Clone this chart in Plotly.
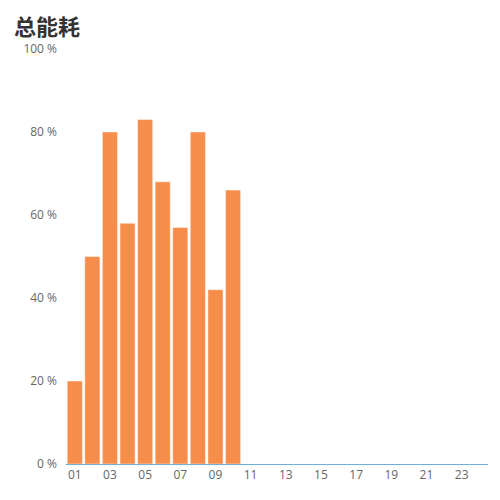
import plotly.graph_objects as go

# hours of the day, 01..24
hours = [f"{h:02d}" for h in range(1, 25)]
# share of total energy use (%), only the first 10 hours have data
energy_pct = [20, 50, 80, 58, 83, 68, 57, 80, 42, 66]
y_ticks = [0, 20, 40, 60, 80, 100]
y_tick_labels = [f"{v} %" for v in y_ticks]

BAR_COLOR = "#f78d4a"
TICK_FONT = dict(family="Open Sans, sans-serif", size=12, color="#666")

# page has an 8px body margin, so the figure is 492x492
W, H = 492, 492
M_L, M_R, M_T, M_B = 58, 12, 41, 36
PW, PH = W - M_L - M_R, H - M_T - M_B

fig = go.Figure()
fig.add_trace(go.Bar(
    x=hours[:len(energy_pct)],
    y=energy_pct,
    marker=dict(color=BAR_COLOR, line=dict(color="rgba(255,255,255,0.45)", width=1)),
    hoverinfo="x+y",
))

fig.update_layout(
    width=W, height=H,
    paper_bgcolor="white", plot_bgcolor="white",
    margin=dict(l=M_L, r=M_R, t=M_T, b=M_B),
    showlegend=False,
    bargap=0.14,
    font=dict(family="Noto Sans CJK SC, Noto Sans, sans-serif", size=12, color="#666"),
    xaxis=dict(
        type="category",
        categoryorder="array", categoryarray=hours,
        range=[-0.5, len(hours) - 0.5],
        tickmode="array", tickvals=hours[::2], ticktext=hours[::2],
        showline=True, linecolor="#6eb1d8", linewidth=1,
        showgrid=False, ticks="", tickfont=TICK_FONT,
    ),
    yaxis=dict(
        range=[0, 100],
        tickmode="array", tickvals=y_ticks, ticktext=y_tick_labels,
        showline=False, showgrid=False, zeroline=False, ticks="",
        ticklabelstandoff=8,
        tickfont=TICK_FONT,
    ),
    annotations=[dict(
        text="<b>总能耗</b>", xref="paper", yref="paper",
        x=(5 - M_L) / PW, y=1 + M_T / PH, xanchor="left", yanchor="top",
        showarrow=False, borderpad=0,
        font=dict(family="Noto Sans CJK SC", size=22, color="#333"),
    )],
)

fig.write_html("out.html")
